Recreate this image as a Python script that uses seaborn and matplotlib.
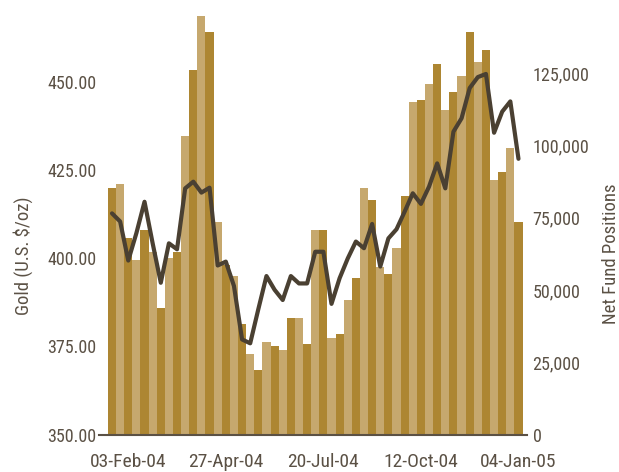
import numpy as np
import pandas as pd
import seaborn as sns
import matplotlib.pyplot as plt
from matplotlib import font_manager
from matplotlib.ticker import FuncFormatter

# weekly data, 20-Jan-04 .. 04-Jan-05
weeks = pd.date_range('2004-01-20', periods=51, freq='7D')

# net fund positions (bars, right axis)
positions = [85100, 86600, 67800, 60300, 70700, 63000, 43600, 61100, 63000, 103200,
             126000, 144700, 139200, 73500, 58600, 54800, 38200, 27800, 22300, 32000,
             30600, 29200, 40300, 40300, 31300, 70700, 70700, 33400, 34800, 46500,
             54100, 85200, 81100, 58000, 55500, 64500, 82500, 115000, 115700, 121200,
             128100, 112200, 118400, 124000, 139200, 128800, 133000, 88000, 90800, 99100,
             73500]

# gold price (line, left axis)
gold = [412.8, 410.5, 399.4, 407.2, 416.1, 404.3, 393.1, 404.3, 402.6, 419.9,
        421.8, 418.7, 420.1, 398.0, 399.1, 392.2, 377.0, 375.9, 385.6, 395.0,
        391.1, 388.2, 395.0, 392.9, 392.9, 401.9, 401.9, 387.1, 394.4, 400.0,
        404.8, 402.9, 409.8, 397.7, 405.7, 408.3, 413.3, 418.5, 415.5, 420.4,
        427.0, 419.9, 436.0, 439.8, 448.4, 451.5, 452.4, 435.7, 441.7, 444.6,
        428.3]

tick_labels = ['03-Feb-04', '27-Apr-04', '20-Jul-04', '12-Oct-04', '04-Jan-05']
gold_ticks = [350, 375, 400, 425, 450]
pos_ticks = [0, 25000, 50000, 75000, 100000, 125000]

DARK = '#ad8632'
LIGHT = '#c6a86e'
LINE = '#4a4032'
TEXT = '#5b5145'

sns.set_style('white')

# the original uses a narrow sans; take whatever condensed face is around
installed = {f.name for f in font_manager.fontManager.ttflist}
condensed = {f.name for f in font_manager.fontManager.ttflist if f.stretch in ('condensed', 'semi-condensed', 'extra-condensed', 600) or 'Condensed' in f.name or 'Narrow' in f.name}
family = 'DejaVu Sans'
for name in ['Liberation Sans Narrow', 'Roboto Condensed', 'Noto Sans Condensed',
             'Open Sans Condensed', 'DejaVu Sans Condensed', 'Noto Sans', 'Roboto', 'DejaVu Sans']:
    if name in installed:
        family = name
        break
plt.rcParams['font.family'] = [family, 'DejaVu Sans']
plt.rcParams['font.stretch'] = 'condensed'

df = pd.DataFrame({
    'week': weeks.strftime('%d-%b-%y'),
    'positions': positions,
    'gold': gold,
})
df['shade'] = np.where(np.arange(len(df)) % 2 == 0, 'dark', 'light')

fig = plt.figure(figsize=(6.19, 4.72), dpi=100)
ax = fig.add_axes([99 / 619, 37.5 / 472, 428 / 619, 434.5 / 472])
ax2 = ax.twinx()

sns.barplot(data=df, x='week', y='positions', hue='shade',
            palette={'dark': DARK, 'light': LIGHT}, width=1.0, dodge=False,
            saturation=1, linewidth=0, legend=False, ax=ax2)
sns.lineplot(x=np.arange(len(df)), y=df['gold'], ax=ax, color=LINE, lw=3)

# line on top of the bars
ax.set_zorder(ax2.get_zorder() + 1)
ax.patch.set_visible(False)

ax.set_xlim(-1.6, 51.05)
ax.set_ylim(350, 473.4)
ax2.set_ylim(0, 150240)

ax.set_yticks(gold_ticks)
ax.yaxis.set_major_formatter(FuncFormatter(lambda v, p: f'{v:.2f}'))
ax2.set_yticks(pos_ticks)
ax2.yaxis.set_major_formatter(FuncFormatter(lambda v, p: f'{v:,.0f}'))

week_list = list(df['week'])
ax.set_xticks([week_list.index(t) for t in tick_labels])
ax.set_xticklabels(tick_labels)

ax.set_xlabel('')
ax.set_ylabel('')
ax2.set_ylabel('')

for a in (ax, ax2):
    for s in a.spines.values():
        s.set_visible(False)
ax.spines['bottom'].set_visible(True)
ax.spines['bottom'].set_color(TEXT)
ax.spines['bottom'].set_linewidth(1.5)

ax.tick_params(axis='y', length=0, pad=2, labelsize=13, labelcolor=TEXT)
ax.tick_params(axis='x', length=0, pad=13.5, labelsize=14, labelcolor=TEXT)
ax2.tick_params(axis='y', length=0, pad=4, labelsize=13, labelcolor=TEXT)

fig.text(23 / 619, 1 - 256 / 472, 'Gold (U.S. $/oz)', rotation=90,
         ha='center', va='center', fontsize=13.5, color=TEXT)
fig.text(610.5 / 619, 1 - 254 / 472, 'Net Fund Positions', rotation=90,
         ha='center', va='center', fontsize=13.5, color=TEXT)

fig.savefig('out.png', dpi=100)
